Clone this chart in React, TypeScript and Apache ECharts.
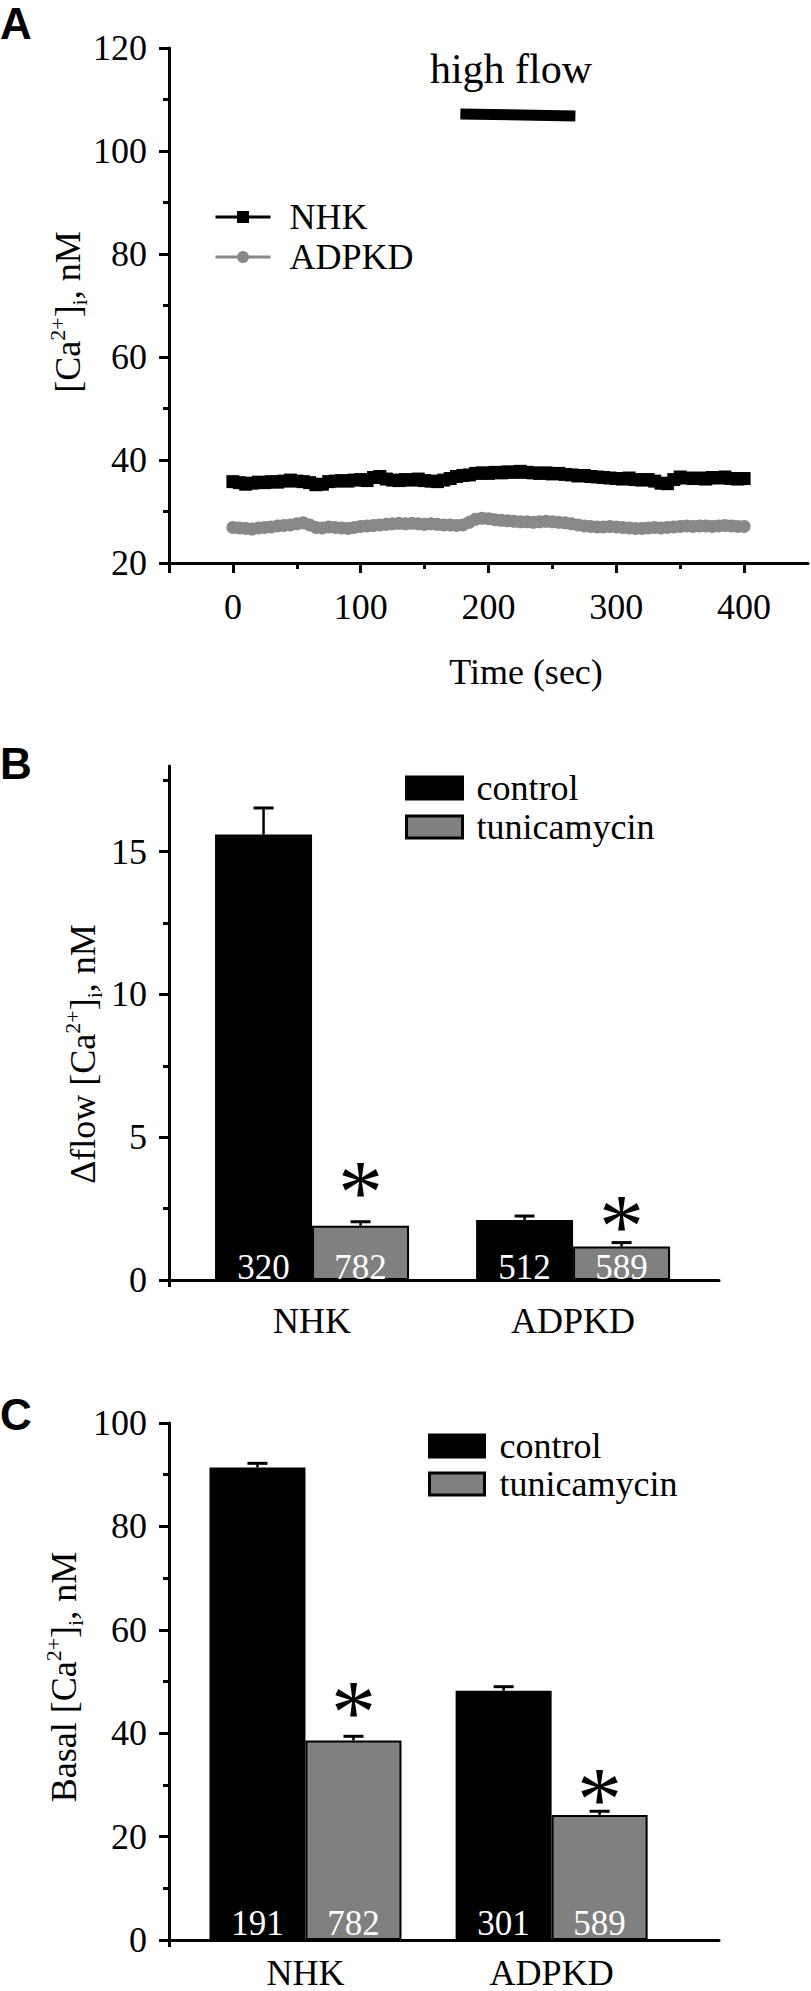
import React, { useEffect, useRef } from "react";
import * as echarts from "echarts";

// ---------- Panel A data ----------
const timeSec = [0,5,10,15,20,25,30,35,40,45,50,55,60,65,70,75,80,85,90,95,100,105,110,115,120,125,130,135,140,145,150,155,160,165,170,175,180,185,190,195,200,205,210,215,220,225,230,235,240,245,250,255,260,265,270,275,280,285,290,295,300,305,310,315,320,325,330,335,340,345,350,355,360,365,370,375,380,385,390,395,400];
const nhkCa = [
  35.8,35.6,35.3,35.5,35.7,35.6,35.8,35.7,35.9,36.1,
  35.9,35.8,35.6,35.2,35.3,35.8,35.9,36.0,35.9,36.1,
  36.2,36.0,36.6,36.8,36.3,36.1,36.0,36.2,36.1,36.3,
  36.0,35.9,35.8,36.1,36.4,36.8,37.0,37.1,37.4,37.5,
  37.4,37.6,37.5,37.7,37.6,37.8,37.6,37.5,37.4,37.5,
  37.3,37.4,37.2,37.1,36.9,37.0,36.8,36.7,36.6,36.5,
  36.4,36.3,36.5,36.2,36.1,36.2,35.9,35.5,35.4,36.2,
  36.7,36.5,36.4,36.5,36.3,36.6,36.5,36.7,36.4,36.3,
  36.4
];
const adpkdCa = [
  26.9,26.8,26.7,26.6,26.8,26.9,27.0,27.2,27.3,27.4,
  27.6,27.8,27.4,26.9,26.8,27.0,26.9,26.8,26.7,26.9,
  27.1,27.2,27.3,27.4,27.5,27.6,27.7,27.6,27.7,27.6,
  27.5,27.6,27.5,27.4,27.4,27.3,27.4,27.9,28.5,28.7,
  28.6,28.4,28.3,28.2,28.1,28.0,28.0,27.9,28.0,28.1,
  28.0,27.9,27.8,27.6,27.4,27.2,27.1,27.0,27.0,27.1,
  27.0,26.9,26.8,26.7,26.7,26.8,26.9,26.8,26.9,27.0,
  27.1,27.2,27.1,27.2,27.2,27.1,27.2,27.3,27.2,27.1,
  27.1
];
const highFlowTime = [178, 268];
const highFlowLevel = [107.2, 106.8];

const aYTicks = [20, 40, 60, 80, 100, 120];
const aYMinor = [30, 50, 70, 90, 110];
const aXTicks = [-50, 0, 100, 200, 300, 400];
const aXLabels = [0, 100, 200, 300, 400];
const aXMinor = [50, 150, 250, 350];

// ---------- Panel B / C data ----------
const groups = ["NHK", "ADPKD"];
const groupPos = [1, 2];

const flowControl = [15.6, 2.1];
const flowControlSem = [0.93, 0.14];
const flowTunica = [1.9, 1.17];
const flowTunicaSem = [0.14, 0.14];
const flowControlN = [320, 512];
const flowTunicaN = [782, 589];
const flowStarLevel = [3.54, 2.35];
const bYTicks = [0, 5, 10, 15];
const bYMinor = [2.5, 7.5, 12.5, 17.5];

const basalControl = [91.4, 48.2];
const basalControlSem = [0.8, 0.8];
const basalTunica = [38.6, 24.2];
const basalTunicaSem = [0.8, 0.7];
const basalControlN = [191, 301];
const basalTunicaN = [782, 589];
const basalStarLevel = [46.7, 29.9];
const cYTicks = [0, 20, 40, 60, 80, 100];
const cYMinor = [10, 30, 50, 70, 90];

const SERIF = "'Liberation Serif', 'Times New Roman', serif";
const SANS = "'Liberation Sans', Arial, sans-serif";
const GRAY = "#808080";

function mainY(grid: number, min: number, max: number, ticks: number[], margin = 22) {
  return {
    type: "value", gridIndex: grid, min, max, position: "left",
    axisLine: { show: true, onZero: false, lineStyle: { color: "#000", width: 3 } },
    axisTick: { show: true, customValues: ticks, length: 10, lineStyle: { color: "#000", width: 3 } },
    axisLabel: { show: true, customValues: ticks, margin, fontSize: 36, fontFamily: SERIF, color: "#000" },
    splitLine: { show: false },
  };
}
function minorY(grid: number, min: number, max: number, ticks: number[]) {
  return {
    type: "value", gridIndex: grid, min, max, position: "left", offset: 0,
    axisLine: { show: false, onZero: false },
    axisTick: { show: true, customValues: ticks, length: 6, lineStyle: { color: "#000", width: 3 } },
    axisLabel: { show: false },
    splitLine: { show: false },
  };
}
function groupX(grid: number, min: number, max: number, margin: number) {
  return {
    type: "value", gridIndex: grid, min, max, position: "bottom",
    axisLine: { show: true, onZero: false, lineStyle: { color: "#000", width: 3 } },
    axisTick: { show: true, customValues: [min], length: 7, lineStyle: { color: "#000", width: 3 } },
    axisLabel: {
      show: true, customValues: groupPos, margin, fontSize: 36, fontFamily: SERIF, color: "#000",
      formatter: (v: number) => groups[Math.round(v) - 1] || "",
    },
    splitLine: { show: false },
  };
}

function errRender(half: number) {
  return (params: any, api: any) => {
    const x = api.value(0), v = api.value(1), e = api.value(2), s = api.value(3);
    const base = api.coord([x, v]);
    const top = api.coord([x, v + e]);
    const cx = base[0] + s * half;
    return {
      type: "group",
      children: [
        { type: "line", shape: { x1: cx, y1: base[1], x2: cx, y2: top[1] }, style: { stroke: "#000", lineWidth: 2.5 } },
        { type: "line", shape: { x1: cx - 10, y1: top[1], x2: cx + 10, y2: top[1] }, style: { stroke: "#000", lineWidth: 3 } },
      ],
    };
  };
}
function starRender(half: number) {
  return (params: any, api: any) => {
    const p = api.coord([api.value(0), api.value(1)]);
    return {
      type: "text", x: p[0] + half, y: p[1] + 14,
      style: { text: "*", fontSize: 90, fontFamily: SERIF, fill: "#000", align: "center", verticalAlign: "middle" },
    };
  };
}

function barSeries(name: string, xi: number, yi: number, vals: number[], ns: number[], color: string, border: boolean, halfW: number, labelOff: number) {
  return {
    type: "bar", name, xAxisIndex: xi, yAxisIndex: yi,
    data: groupPos.map((x, i) => [x, vals[i]]),
    barWidth: halfW * 2, barGap: "0%",
    itemStyle: border ? { color, borderColor: "#000", borderWidth: 2 } : { color },
    label: {
      show: true, position: "insideBottom", distance: 0, offset: [0, labelOff],
      formatter: (p: any) => String(ns[p.dataIndex]),
      color: "#fff", fontSize: 35, fontFamily: SERIF,
    },
    z: 2,
  };
}

const richName = (prefix: string) => ({
  text: (prefix ? "{n|" + prefix + "}" : "") + "{n|[Ca}{sup|2+}{n|]}{sub|i}{n|, nM}",
  rich: {
    n: { fontSize: 36, fontFamily: SERIF, fill: "#000", lineHeight: 44 },
    sup: { fontSize: 22, fontFamily: SERIF, fill: "#000", lineHeight: 22, verticalAlign: "top" },
    sub: { fontSize: 22, fontFamily: SERIF, fill: "#000", lineHeight: 22, verticalAlign: "bottom" },
  },
  align: "center", verticalAlign: "middle",
});

function buildOption(): any {
  const legendText = { fontSize: 36, fontFamily: SERIF, color: "#000" };
  return {
    animation: false,
    backgroundColor: "#fff",
    grid: [
      { left: 169, top: 48, width: 639, height: 515 },
      { left: 169, top: 766, width: 550, height: 514 },
      { left: 169, top: 1423, width: 550, height: 517 },
    ],
    xAxis: [
      {
        type: "value", gridIndex: 0, min: -50, max: 450, position: "bottom",
        axisLine: { show: true, onZero: false, lineStyle: { color: "#000", width: 3 } },
        axisTick: { show: true, customValues: aXTicks, length: 10, lineStyle: { color: "#000", width: 3 } },
        axisLabel: { show: true, customValues: aXLabels, margin: 26, fontSize: 36, fontFamily: SERIF, color: "#000" },
        splitLine: { show: false },
      },
      {
        type: "value", gridIndex: 0, min: -50, max: 450, position: "bottom", offset: 0,
        axisLine: { show: false, onZero: false },
        axisTick: { show: true, customValues: aXMinor, length: 6, lineStyle: { color: "#000", width: 3 } },
        axisLabel: { show: false },
        splitLine: { show: false },
      },
      groupX(1, 0.452, 2.559, 23),
      groupX(2, 0.4456, 2.68, 15),
    ],
    yAxis: [
      mainY(0, 20, 120, aYTicks),
      minorY(0, 20, 120, aYMinor),
      mainY(1, 0, 18, bYTicks),
      minorY(1, 0, 18, bYMinor),
      mainY(2, 0, 100, cYTicks),
      minorY(2, 0, 100, cYMinor),
    ],
    legend: [
      {
        data: ["NHK", "ADPKD"], orient: "vertical", left: 214, top: 199, padding: 0,
        itemWidth: 55, itemHeight: 15, itemGap: 4, selectedMode: false,
        textStyle: { ...legendText, padding: [0, 0, 0, 14] },
        lineStyle: { width: 3 },
      },
      {
        data: ["control", "tunicamycin"], orient: "vertical", left: 405, top: 770, padding: 0,
        itemWidth: 56, itemHeight: 22, itemGap: 3, icon: "rect", selectedMode: false,
        textStyle: { ...legendText, padding: [0, 0, 0, 9] },
        itemStyle: { borderColor: "#000", borderWidth: 3 },
      },
      {
        data: ["control", "tunicamycin"], orient: "vertical", left: 428, top: 1428, padding: 0,
        itemWidth: 55, itemHeight: 22, itemGap: 2, icon: "rect", selectedMode: false,
        textStyle: { ...legendText, padding: [0, 0, 0, 10] },
        itemStyle: { borderColor: "#000", borderWidth: 3 },
      },
    ],
    graphic: [
      { type: "text", x: 0, y: 1, style: { text: "A", fontSize: 44, fontWeight: "bold", fontFamily: SANS, fill: "#000" } },
      { type: "text", x: 0, y: 741, style: { text: "B", fontSize: 44, fontWeight: "bold", fontFamily: SANS, fill: "#000" } },
      { type: "text", x: 0, y: 1392, style: { text: "C", fontSize: 44, fontWeight: "bold", fontFamily: SANS, fill: "#000" } },
      { type: "text", x: 511, y: 68.5, style: { text: "high flow", fontSize: 42, fontFamily: SERIF, fill: "#000", align: "center", verticalAlign: "middle" } },
      { type: "text", x: 526, y: 672, style: { text: "Time (sec)", fontSize: 36, fontFamily: SERIF, fill: "#000", align: "center", verticalAlign: "middle" } },
      { type: "text", x: 68, y: 312, rotation: Math.PI / 2, style: richName("") },
      { type: "text", x: 83, y: 1054, rotation: Math.PI / 2, style: richName("\u0394flow ") },
      { type: "text", x: 64, y: 1677, rotation: Math.PI / 2, style: richName("Basal ") },
    ],
    series: [
      {
        type: "line", name: "NHK", xAxisIndex: 0, yAxisIndex: 0,
        data: timeSec.map((t, i) => [t, nhkCa[i]]),
        symbol: "rect", symbolSize: 13, showSymbol: true,
        lineStyle: { color: "#000", width: 11 }, itemStyle: { color: "#000" }, z: 3,
      },
      {
        type: "line", name: "ADPKD", xAxisIndex: 0, yAxisIndex: 0,
        data: timeSec.map((t, i) => [t, adpkdCa[i]]),
        symbol: "circle", symbolSize: 13, showSymbol: true,
        lineStyle: { color: "#888", width: 11 }, itemStyle: { color: "#888" }, z: 2,
      },
      {
        type: "line", name: "high flow", xAxisIndex: 0, yAxisIndex: 0,
        data: highFlowTime.map((t, i) => [t, highFlowLevel[i]]),
        symbol: "none", lineStyle: { color: "#000", width: 11 }, silent: true,
      },
      barSeries("control", 2, 2, flowControl, flowControlN, "#000", false, 48.5, 5),
      barSeries("tunicamycin", 2, 2, flowTunica, flowTunicaN, GRAY, true, 48.5, 5),
      {
        type: "custom", xAxisIndex: 2, yAxisIndex: 2, encode: { x: 0, y: 1 }, z: 5, silent: true,
        data: [
          ...groupPos.map((x, i) => [x, flowControl[i], flowControlSem[i], -1]),
          ...groupPos.map((x, i) => [x, flowTunica[i], flowTunicaSem[i], 1]),
        ],
        renderItem: errRender(48.5),
      },
      {
        type: "custom", xAxisIndex: 2, yAxisIndex: 2, encode: { x: 0, y: 1 }, z: 5, silent: true,
        data: groupPos.map((x, i) => [x, flowStarLevel[i]]),
        renderItem: starRender(48.5),
      },
      barSeries("control", 3, 4, basalControl, basalControlN, "#000", false, 48, 1),
      barSeries("tunicamycin", 3, 4, basalTunica, basalTunicaN, GRAY, true, 48, 1),
      {
        type: "custom", xAxisIndex: 3, yAxisIndex: 4, encode: { x: 0, y: 1 }, z: 5, silent: true,
        data: [
          ...groupPos.map((x, i) => [x, basalControl[i], basalControlSem[i], -1]),
          ...groupPos.map((x, i) => [x, basalTunica[i], basalTunicaSem[i], 1]),
        ],
        renderItem: errRender(48),
      },
      {
        type: "custom", xAxisIndex: 3, yAxisIndex: 4, encode: { x: 0, y: 1 }, z: 5, silent: true,
        data: groupPos.map((x, i) => [x, basalStarLevel[i]]),
        renderItem: starRender(48),
      },
    ],
  };
}

export default function App() {
  const ref = useRef<HTMLDivElement>(null);
  useEffect(() => {
    document.body.style.margin = "0";
    const chart = echarts.init(ref.current as HTMLDivElement, null, { renderer: "svg" });
    chart.setOption(buildOption());
    return () => chart.dispose();
  }, []);
  return <div ref={ref} style={{ width: 811, height: 1991 }} />;
}
